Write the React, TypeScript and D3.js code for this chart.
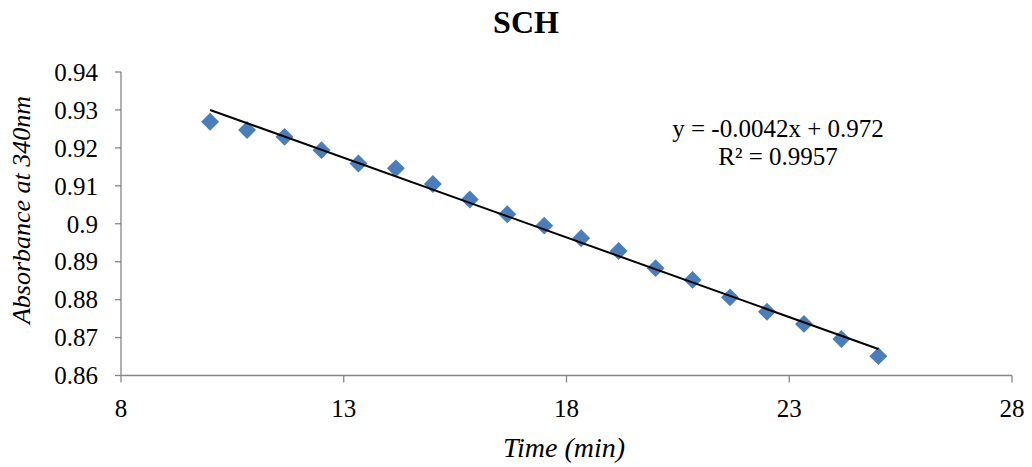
import React from "react";
import * as d3 from "d3";

const timeMin: number[] = [10, 10.83, 11.67, 12.5, 13.33, 14.17, 15, 15.83, 16.67, 17.5, 18.33, 19.17, 20, 20.83, 21.67, 22.5, 23.33, 24.17, 25];
const absorbance: number[] = [0.9269, 0.9247, 0.9229, 0.9194, 0.9159, 0.9146, 0.9105, 0.9064, 0.9025, 0.8995, 0.8962, 0.8928, 0.8883, 0.8852, 0.8806, 0.8768, 0.8736, 0.8696, 0.8651];
const xTicks: number[] = [8, 13, 18, 23, 28];
const yTicks: number[] = [0.86, 0.87, 0.88, 0.89, 0.9, 0.91, 0.92, 0.93, 0.94];
const trendSlope = -0.0042;
const trendIntercept = 0.972;
const equationLines: string[] = ["y = -0.0042x + 0.972", "R² = 0.9957"];

const W = 1032;
const H = 467;
const left = 121;
const right = 1012;
const top = 72;
const bottom = 375.5;
const font = "Liberation Serif, DejaVu Serif, serif";
const axisColor = "#868686";
const markerColor = "#4A7EBB";

export default function App() {
  const x = d3.scaleLinear().domain([8, 28]).range([left, right]);
  const y = d3.scaleLinear().domain([0.86, 0.94]).range([bottom, top]);
  const xMin = d3.min(timeMin) as number;
  const xMax = d3.max(timeMin) as number;
  const line = d3.line<number>().x((d) => x(d)).y((d) => y(trendSlope * d + trendIntercept));
  const diamond = d3.symbol().type(d3.symbolDiamond2).size(205)();
  const fmtY = (v: number) => String(+v.toFixed(2));
  const txt = (extra: React.CSSProperties = {}): React.CSSProperties => ({ fontFamily: font, fill: "#000", ...extra });

  return (
    <svg width={W} height={H} style={{ position: "absolute", left: 0, top: 0, background: "#fff", fontFamily: font }}>
      <rect x={0} y={0} width={W} height={H} fill="#fff" />
      <text x={526} y={33} textAnchor="middle" style={txt({ fontWeight: "bold", fontSize: 32 })}>SCH</text>
      {/* y axis */}
      <line x1={left} x2={left} y1={top} y2={bottom} stroke={axisColor} strokeWidth={1.3} />
      {yTicks.map((t) => (
        <g key={"y" + t}>
          <line x1={left - 6} x2={left} y1={y(t)} y2={y(t)} stroke={axisColor} strokeWidth={1.3} />
          <text x={98} y={y(t)} dy="0.35em" textAnchor="end" style={txt({ fontSize: 25 })}>{fmtY(t)}</text>
        </g>
      ))}
      {/* x axis */}
      <line x1={left} x2={right} y1={bottom} y2={bottom} stroke={axisColor} strokeWidth={1.3} />
      {xTicks.map((t) => (
        <g key={"x" + t}>
          <line x1={x(t)} x2={x(t)} y1={bottom} y2={bottom + 7} stroke={axisColor} strokeWidth={1.3} />
          <text x={x(t)} y={417} textAnchor="middle" style={txt({ fontSize: 25 })}>{t}</text>
        </g>
      ))}
      <text x={564} y={457} textAnchor="middle" style={txt({ fontStyle: "italic", fontSize: 28 })}>Time (min)</text>
      <text transform={`translate(30,210) rotate(-90)`} textAnchor="middle" style={txt({ fontStyle: "italic", fontSize: 26 })}>Absorbance at 340nm</text>
      {/* markers */}
      {timeMin.map((t, i) => (
        <path key={"p" + i} d={diamond as string} transform={`translate(${x(t)},${y(absorbance[i])})`} fill={markerColor} />
      ))}
      {/* trendline */}
      <path d={line([xMin, xMax]) as string} stroke="#000" strokeWidth={2} fill="none" />
      {equationLines.map((s, i) => (
        <text key={"e" + i} x={778} y={137 + i * 28} textAnchor="middle" style={txt({ fontSize: 25 })}>{s}</text>
      ))}
    </svg>
  );
}
